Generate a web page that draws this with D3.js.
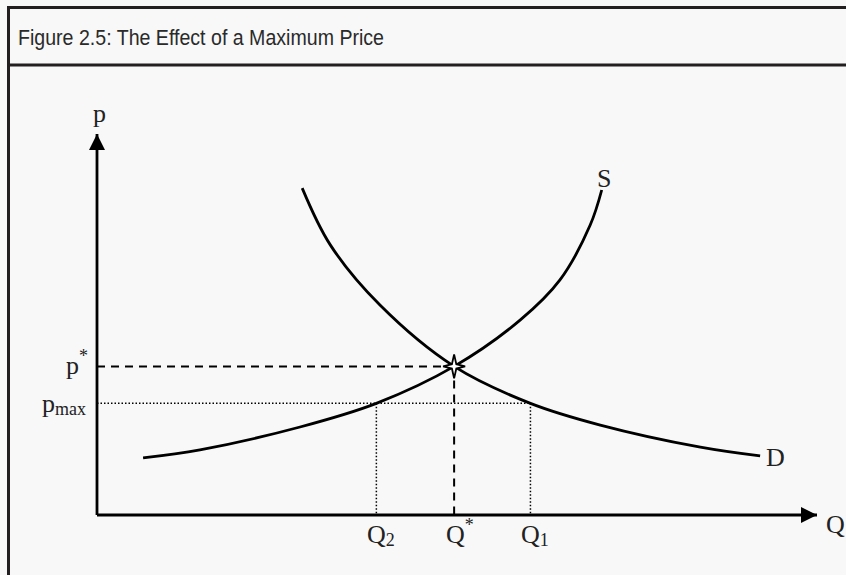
<!DOCTYPE html>
<html>
<head>
<meta charset="utf-8">
<script src="https://cdn.jsdelivr.net/npm/d3@7"></script>
<style>
  html, body { margin: 0; padding: 0; background: #f8f8f8; }
  svg { display: block; }
</style>
</head>
<body>
<script>
// Supply and demand curves (quantity, price) in chart units
const supplyQ = [6.4, 14.3, 28.2, 38.8, 49.6, 58.8, 64.3, 68.5, 70.1];
const supplyP = [15.0, 17.1, 23.1, 29.3, 39.0, 51.2, 61.7, 76.1, 85.3];
const demandQ = [28.5, 32.4, 39.3, 49.6, 60.2, 69.9, 83.8, 92.1];
const demandP = [85.8, 70.9, 55.1, 39.0, 29.3, 23.6, 17.8, 15.5];

// Equilibrium and price ceiling
const eqQ = 49.6, eqP = 39.0;
const maxPrice = 29.3;
const qSupplied = 38.8, qDemanded = 60.2;

const W = 846, H = 575;
const svg = d3.select("body").append("svg").attr("width", W).attr("height", H);

// Frame and title bar
const ink = "#231f20";
svg.append("rect").attr("x", 0).attr("y", 0).attr("width", W).attr("height", H).attr("fill", "#f8f8f8");
svg.append("path")
  .attr("d", `M8.5,${H} V7.5 H${W}`)
  .attr("fill", "none").attr("stroke", ink).attr("stroke-width", 3);
svg.append("line").attr("x1", 8.5).attr("x2", W).attr("y1", 65).attr("y2", 65)
  .attr("stroke", ink).attr("stroke-width", 3);
svg.append("text").attr("x", 18).attr("y", 45)
  .attr("font-family", "'Liberation Sans', Arial, sans-serif")
  .attr("font-size", 22).attr("fill", "#2a2a2a")
  .attr("textLength", 366).attr("lengthAdjust", "spacingAndGlyphs")
  .text("Figure 2.5: The Effect of a Maximum Price");

const x = d3.scaleLinear().domain([0, 100]).range([97, 817]);
const y = d3.scaleLinear().domain([0, 100]).range([515, 134]);

// Arrowheads
const defs = svg.append("defs");
defs.append("marker").attr("id", "arrow")
  .attr("viewBox", "0 0 10 10").attr("refX", 10).attr("refY", 5)
  .attr("markerWidth", 16).attr("markerHeight", 16).attr("markerUnits", "userSpaceOnUse")
  .attr("orient", "auto")
  .append("path").attr("d", "M0,0 L10,5 L0,10 Z").attr("fill", "#000");

// Axes
svg.append("line").attr("x1", x(0)).attr("y1", y(0)).attr("x2", x(100)).attr("y2", y(0))
  .attr("stroke", "#000").attr("stroke-width", 2.8).attr("marker-end", "url(#arrow)");
svg.append("line").attr("x1", x(0)).attr("y1", y(0)).attr("x2", x(0)).attr("y2", y(100))
  .attr("stroke", "#000").attr("stroke-width", 2.8).attr("marker-end", "url(#arrow)");

// Guide lines
const g = svg.append("g").attr("stroke", "#000").attr("fill", "none");
g.append("line").attr("x1", x(0)).attr("x2", x(eqQ)).attr("y1", y(eqP)).attr("y2", y(eqP))
  .attr("stroke-width", 2).attr("stroke-dasharray", "8,6");
g.append("line").attr("x1", x(eqQ)).attr("x2", x(eqQ)).attr("y1", y(eqP)).attr("y2", y(0))
  .attr("stroke-width", 2).attr("stroke-dasharray", "8,6");
g.append("line").attr("x1", x(0)).attr("x2", x(qDemanded)).attr("y1", y(maxPrice)).attr("y2", y(maxPrice))
  .attr("stroke-width", 1.5).attr("stroke-dasharray", "1.5,2");
g.append("line").attr("x1", x(qSupplied)).attr("x2", x(qSupplied)).attr("y1", y(maxPrice)).attr("y2", y(0))
  .attr("stroke-width", 1.5).attr("stroke-dasharray", "1.5,2");
g.append("line").attr("x1", x(qDemanded)).attr("x2", x(qDemanded)).attr("y1", y(maxPrice)).attr("y2", y(0))
  .attr("stroke-width", 1.5).attr("stroke-dasharray", "1.5,2");

// Curves
const line = d3.line().x(d => x(d[0])).y(d => y(d[1])).curve(d3.curveCatmullRom.alpha(0.5));
svg.append("path").datum(d3.zip(supplyQ, supplyP)).attr("d", line)
  .attr("fill", "none").attr("stroke", "#000").attr("stroke-width", 2.8);
svg.append("path").datum(d3.zip(demandQ, demandP)).attr("d", line)
  .attr("fill", "none").attr("stroke", "#000").attr("stroke-width", 2.8);

// Equilibrium star
const star = "M0,-12 L2.2,-2.2 L11,0 L2.2,2.2 L0,12 L-2.2,2.2 L-11,0 L-2.2,-2.2 Z";
svg.append("path").attr("d", star)
  .attr("transform", `translate(${x(eqQ)},${y(eqP)})`)
  .attr("fill", "#fff").attr("stroke", "#000").attr("stroke-width", 1.8);

// Labels
const serif = "'Liberation Serif', 'Times New Roman', serif";
function label(tx, ty, main, sub, sup, anchor) {
  const t = svg.append("text").attr("x", tx).attr("y", ty)
    .attr("font-family", serif).attr("font-size", 26).attr("fill", "#222")
    .attr("text-anchor", anchor || "start");
  t.append("tspan").text(main);
  if (sub) t.append("tspan").attr("font-size", 18).attr("dy", 3).text(sub);
  if (sup) t.append("tspan").attr("font-size", 18).attr("dy", -12).text(sup);
  return t;
}
label(93, 122, "p");
label(826, 533, "Q");
label(597, 187, "S");
label(766, 466, "D");
label(66, 374, "p", null, "*");
label(42, 412, "p", "max");
label(367, 543, "Q", "2");
label(446, 543, "Q", null, "*");
label(521, 543, "Q", "1");
</script>
</body>
</html>
